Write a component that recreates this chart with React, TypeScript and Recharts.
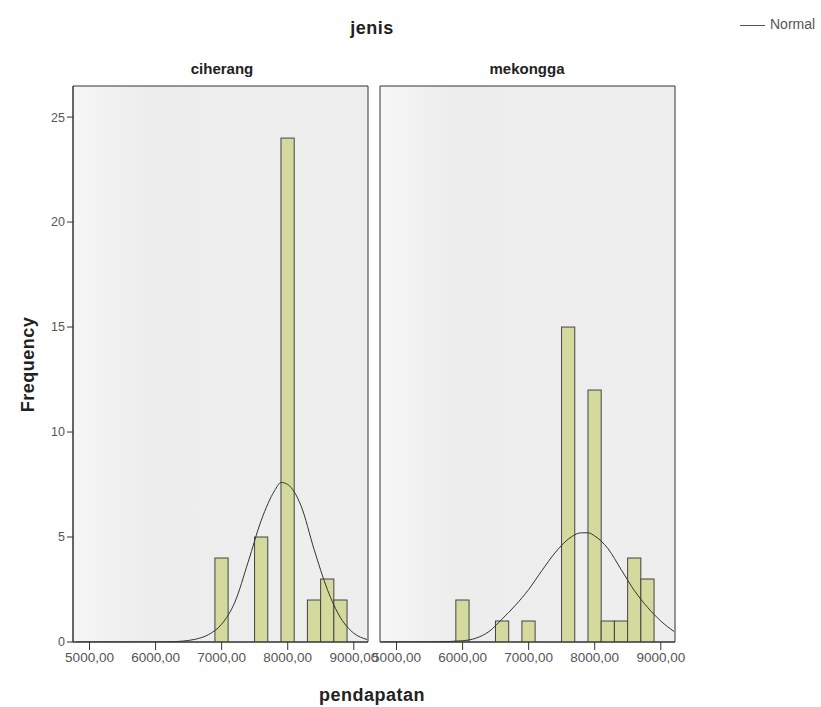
import React from "react";
import { ComposedChart, Bar, Line, XAxis, YAxis, CartesianGrid, ReferenceArea } from "recharts";

// histogram bins (bin centres, width 200) and counts per panel
const ciherangBins = [7000, 7600, 8000, 8400, 8600, 8800];
const ciherangFreq = [4, 5, 24, 2, 3, 2];
const mekonggaBins = [6000, 6600, 7000, 7600, 8000, 8200, 8400, 8600, 8800];
const mekonggaFreq = [2, 1, 1, 15, 12, 1, 1, 4, 3];

// normal curve
const curveX = [4800, 5200, 5600, 6000, 6200, 6400, 6600, 6800, 7000, 7200, 7400, 7600, 7800, 7900, 8000, 8200, 8400, 8600, 8800, 9000, 9200];
const ciherangNormal = [0, 0, 0, 0, 0.01, 0.04, 0.13, 0.35, 0.85, 1.9, 3.8, 5.8, 7.2, 7.6, 7.5, 6.5, 4.4, 2.5, 1.15, 0.42, 0.12];
const mekonggaNormal = [0, 0, 0.01, 0.06, 0.18, 0.5, 1.1, 1.75, 2.5, 3.4, 4.25, 4.9, 5.2, 5.2, 5.05, 4.45, 3.45, 2.45, 1.65, 1.0, 0.5];

const xTicks = [5000, 6000, 7000, 8000, 9000];
const yTicks = [0, 5, 10, 15, 20, 25];

const FONT = "'Liberation Sans', Arial, sans-serif";
const X_DOMAIN = [4750, 9215];
const Y_MAX = 26.48;
const PLOT_W = 295;
const BIN_W = 200;
const BAR_PX = (PLOT_W * BIN_W) / (X_DOMAIN[1] - X_DOMAIN[0]);
const PAD = 30; // extra room so edge tick labels are not clipped

const fmt = (v: number) => v.toFixed(2).replace(".", ",");

// full-width histogram bar, centred on the bar recharts placed
const HistBar = (p: any) => {
  if (!p.height) return null;
  const cx = p.x + p.width / 2;
  return <rect x={cx - BAR_PX / 2} y={p.y} width={BAR_PX} height={p.height} fill="#d4d99d" stroke="#444" strokeWidth={1} />;
};

function Panel({ id, bins, freq, normal, left, showY }: any) {
  const data = bins.map((x: number, i: number) => ({ x, freq: freq[i] }));
  const curve = curveX.map((x, i) => ({ x, y: normal[i] }));
  const yw = showY ? 40 : 0;
  return (
    <ComposedChart width={left + yw + PLOT_W + PAD} height={707} data={data} margin={{ top: 86, right: PAD, bottom: 35, left }}>
      <defs>
        <linearGradient id={id} x1="0" y1="0" x2="1" y2="0">
          <stop offset="0" stopColor="#f6f6f6" />
          <stop offset="0.25" stopColor="#ededed" />
          <stop offset="1" stopColor="#eeeeee" />
        </linearGradient>
      </defs>
      <CartesianGrid horizontal={false} vertical={false} fill={`url(#${id})`} />
      <XAxis
        type="number"
        dataKey="x"
        domain={X_DOMAIN}
        allowDataOverflow
        ticks={xTicks}
        interval={0}
        tickFormatter={fmt}
        height={30}
        tickSize={8}
        tickMargin={2}
        stroke="#333"
        tick={{ fontSize: 13.5, fill: "#555", fontFamily: FONT }}
      />
      <YAxis
        type="number"
        domain={[0, Y_MAX]}
        allowDataOverflow
        ticks={yTicks}
        hide={!showY}
        width={40}
        tickSize={6}
        tickMargin={2}
        stroke="#333"
        tick={{ fontSize: 12.5, fill: "#555", fontFamily: FONT }}
      />
      <Bar dataKey="freq" shape={HistBar} isAnimationActive={false} />
      <Line data={curve} dataKey="y" type="monotone" dot={false} stroke="#333" strokeWidth={1} isAnimationActive={false} />
      <ReferenceArea x1={X_DOMAIN[0]} x2={X_DOMAIN[1]} y1={0} y2={Y_MAX} fill="none" stroke="#333" strokeWidth={1} />
    </ComposedChart>
  );
}

const title = { position: "absolute" as const, fontWeight: "bold" as const, fontSize: 15, color: "#222", whiteSpace: "nowrap" as const, textAlign: "center" as const };
const big = { ...title, fontSize: 18, letterSpacing: 0.5 };

export default function App() {
  return (
    <div style={{ position: "absolute", left: 0, top: 0, width: 821, height: 707, background: "#fff", fontFamily: FONT, overflow: "hidden" }}>
      <div style={{ position: "absolute", left: 0, top: 0 }}>
        <Panel id="gl" bins={ciherangBins} freq={ciherangFreq} normal={ciherangNormal} left={33} showY />
      </div>
      <div style={{ position: "absolute", left: 380 - PAD, top: 0 }}>
        <Panel id="gr" bins={mekonggaBins} freq={mekonggaFreq} normal={mekonggaNormal} left={PAD} showY={false} />
      </div>
      <div style={{ ...big, left: 312, width: 120, top: 18 }}>jenis</div>
      <div style={{ ...title, left: 172, width: 100, top: 60 }}>ciherang</div>
      <div style={{ ...title, left: 477, width: 100, top: 60 }}>mekongga</div>
      <div style={{ ...big, left: 312, width: 120, top: 685 }}>pendapatan</div>
      <div style={{ ...big, left: -32, width: 120, top: 354, transform: "rotate(-90deg)" }}>Frequency</div>
      <div style={{ position: "absolute", left: 740, top: 25, width: 25, height: 1, background: "#555" }} />
      <div style={{ position: "absolute", left: 770, top: 16, fontSize: 14, color: "#555", whiteSpace: "nowrap" }}>Normal</div>
    </div>
  );
}
